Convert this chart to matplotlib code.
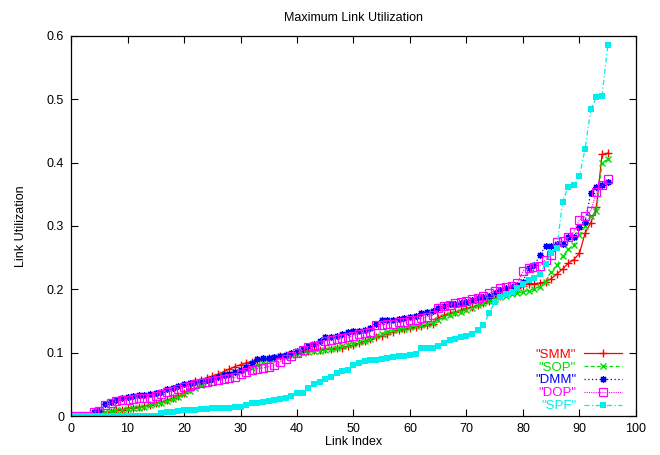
import numpy as np
import matplotlib
matplotlib.use('Agg')
import matplotlib.pyplot as plt

# link utilization values per link (sorted)
smm = [0, 0, 0, 0, 0, 0, 0, 0.006, 0.009, 0.010,
       0.012, 0.013, 0.014, 0.016, 0.018, 0.020, 0.022, 0.025, 0.028, 0.031,
       0.036, 0.042, 0.055, 0.057, 0.060, 0.063, 0.066, 0.070, 0.074, 0.078,
       0.081, 0.084, 0.086, 0.088, 0.090, 0.091, 0.092, 0.094, 0.096, 0.098,
       0.100, 0.102, 0.103, 0.104, 0.105, 0.106, 0.106, 0.107, 0.108, 0.110,
       0.112, 0.115, 0.118, 0.121, 0.124, 0.127, 0.130, 0.133, 0.136, 0.137,
       0.139, 0.141, 0.142, 0.144, 0.146, 0.155, 0.159, 0.162, 0.164, 0.167,
       0.170, 0.172, 0.175, 0.178, 0.181, 0.186, 0.190, 0.195, 0.199, 0.202,
       0.206, 0.209, 0.209, 0.210, 0.212, 0.217, 0.224, 0.232, 0.241, 0.247,
       0.257, 0.289, 0.305, 0.330, 0.413, 0.415]
sop = [0, 0, 0, 0, 0, 0.004, 0.006, 0.008, 0.009, 0.010,
       0.011, 0.012, 0.013, 0.015, 0.017, 0.019, 0.021, 0.024, 0.027, 0.030,
       0.034, 0.040, 0.045, 0.049, 0.053, 0.057, 0.061, 0.064, 0.067, 0.070,
       0.072, 0.074, 0.076, 0.080, 0.084, 0.088, 0.091, 0.094, 0.095, 0.096,
       0.098, 0.100, 0.101, 0.102, 0.103, 0.104, 0.106, 0.108, 0.110, 0.112,
       0.114, 0.117, 0.119, 0.122, 0.126, 0.130, 0.133, 0.136, 0.137, 0.138,
       0.141, 0.142, 0.143, 0.145, 0.147, 0.152, 0.156, 0.160, 0.163, 0.165,
       0.168, 0.171, 0.176, 0.179, 0.182, 0.185, 0.188, 0.190, 0.192, 0.194,
       0.196, 0.198, 0.200, 0.204, 0.212, 0.228, 0.238, 0.252, 0.263, 0.270,
       0.286, 0.300, 0.315, 0.323, 0.400, 0.405]
dmm = [0, 0, 0, 0, 0.007, 0.008, 0.019, 0.022, 0.025, 0.028,
       0.030, 0.032, 0.033, 0.033, 0.034, 0.036, 0.038, 0.042, 0.045, 0.047,
       0.050, 0.052, 0.054, 0.055, 0.057, 0.059, 0.061, 0.064, 0.067, 0.070,
       0.073, 0.078, 0.084, 0.090, 0.091, 0.092, 0.093, 0.095, 0.097, 0.099,
       0.102, 0.106, 0.111, 0.113, 0.118, 0.124, 0.124, 0.126, 0.130, 0.132,
       0.135, 0.135, 0.136, 0.139, 0.145, 0.151, 0.152, 0.152, 0.153, 0.154,
       0.156, 0.158, 0.162, 0.165, 0.166, 0.170, 0.174, 0.177, 0.177, 0.178,
       0.180, 0.183, 0.187, 0.188, 0.190, 0.194, 0.199, 0.202, 0.204, 0.207,
       0.212, 0.234, 0.238, 0.254, 0.269, 0.269, 0.271, 0.272, 0.283, 0.283,
       0.299, 0.307, 0.352, 0.362, 0.365, 0.370]
dop = [0, 0, 0, 0, 0.007, 0.008, 0.017, 0.020, 0.023, 0.025,
       0.026, 0.027, 0.028, 0.028, 0.029, 0.031, 0.035, 0.038, 0.040, 0.043,
       0.046, 0.048, 0.050, 0.052, 0.054, 0.056, 0.057, 0.059, 0.060, 0.061,
       0.066, 0.070, 0.073, 0.075, 0.076, 0.078, 0.080, 0.085, 0.090, 0.094,
       0.099, 0.104, 0.109, 0.111, 0.112, 0.119, 0.120, 0.121, 0.123, 0.124,
       0.127, 0.129, 0.131, 0.133, 0.144, 0.144, 0.145, 0.146, 0.148, 0.149,
       0.151, 0.152, 0.154, 0.157, 0.159, 0.170, 0.173, 0.176, 0.178, 0.180,
       0.182, 0.185, 0.187, 0.190, 0.194, 0.198, 0.202, 0.204, 0.205, 0.210,
       0.229, 0.234, 0.236, 0.237, 0.247, 0.254, 0.275, 0.276, 0.282, 0.291,
       0.310, 0.315, 0.324, 0.353, 0.364, 0.374]
spf = [0, 0, 0, 0, 0, 0, 0, 0, 0, 0,
       0, 0, 0, 0, 0, 0, 0.005, 0.006, 0.007, 0.008,
       0.009, 0.010, 0.010, 0.011, 0.011, 0.012, 0.012, 0.013, 0.013, 0.014,
       0.015, 0.017, 0.020, 0.021, 0.022, 0.023, 0.025, 0.027, 0.029, 0.032,
       0.036, 0.037, 0.045, 0.050, 0.053, 0.058, 0.062, 0.068, 0.071, 0.073,
       0.080, 0.084, 0.087, 0.088, 0.089, 0.090, 0.091, 0.093, 0.094, 0.095,
       0.096, 0.098, 0.107, 0.107, 0.108, 0.110, 0.115, 0.120, 0.122, 0.125,
       0.127, 0.129, 0.136, 0.144, 0.162, 0.180, 0.188, 0.192, 0.196, 0.202,
       0.209, 0.215, 0.218, 0.225, 0.240, 0.258, 0.266, 0.338, 0.362, 0.364,
       0.379, 0.422, 0.484, 0.503, 0.506, 0.585]

x = np.arange(len(smm))

plt.rcParams['font.family'] = ['Liberation Sans', 'DejaVu Sans']
plt.rcParams['font.size'] = 9

fig = plt.figure(figsize=(6.6, 4.55), dpi=100)
ax = fig.add_axes([0.1076, 0.0857, 0.856, 0.8352])

ax.plot(x, smm, color='#ff0000', ls='-', lw=0.9, marker='+', ms=5.5, mew=1.0, label='"SMM"')
ax.plot(x, sop, color='#00dd00', ls=(0, (3, 2)), lw=0.9, marker='x', ms=4.5, mew=1.0, label='"SOP"')
ax.plot(x, dmm, color='#0000ff', ls=(0, (1, 2)), lw=0.9, marker=(8, 2, 0), ms=5, mew=0.9, label='"DMM"')
ax.plot(x, dop, color='#ff00ff', ls=(0, (1, 1)), lw=0.8, marker='s', ms=5.5, mew=0.9,
        mfc='none', label='"DOP"')
ax.plot(x, spf, color='#00eeee', ls=(0, (4, 2, 1, 2)), lw=0.9, marker='s', ms=5, mew=0,
        label='"SPF"')

ax.set_xlim(0, 100)
ax.set_ylim(0, 0.6)
ax.set_xticks(np.arange(0, 101, 10))
ax.set_yticks(np.arange(0, 0.61, 0.1))
ax.set_yticklabels(['0', '0.1', '0.2', '0.3', '0.4', '0.5', '0.6'])
ax.tick_params(direction='in', length=5, width=0.8, top=True, right=True, pad=5)
for s in ax.spines.values():
    s.set_linewidth(0.9)

ax.set_title('Maximum Link Utilization', fontsize=9, pad=11)
ax.set_xlabel('Link Index', labelpad=1)
ax.set_ylabel('Link Utilization', labelpad=14)

leg = ax.legend(loc='lower right', frameon=False, markerfirst=False, labelcolor='linecolor',
                handlelength=2.9, handletextpad=0.6, labelspacing=0.05, fontsize=9.5,
                borderaxespad=0.0, bbox_to_anchor=(0.985, -0.004))

fig.savefig('out.png', dpi=100)
